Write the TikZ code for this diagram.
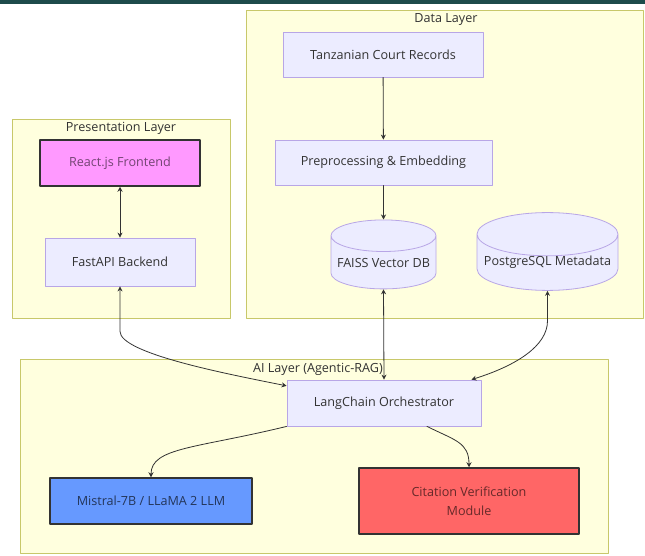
\documentclass[tikz,border=0pt]{standalone}
\usepackage{fontspec}
\setmainfont{Open Sans}
\usetikzlibrary{shapes.geometric,arrows.meta}
\definecolor{clusterfill}{HTML}{FFFFDE}
\definecolor{clusterline}{HTML}{C8C86A}
\definecolor{nodefill}{HTML}{ECECFF}
\definecolor{nodeline}{HTML}{B8A6E6}
\definecolor{textgrey}{HTML}{333333}
\definecolor{reactfill}{HTML}{FF99FF}
\definecolor{llmfill}{HTML}{6699FF}
\definecolor{citefill}{HTML}{FF6666}
\definecolor{topbar}{HTML}{1D4B4B}
\begin{document}
\begin{tikzpicture}[x=1pt,y=-1pt,line join = round, line cap=round,>={Stealth[length=5pt,width=5pt]},font=\fontsize{12.6}{15}\selectfont,
    layer/.style={draw=clusterline,fill=clusterfill,line width=0.8pt},
    layertitle/.style={text=textgrey},
    box/.style={draw=nodeline,fill=nodefill,line width=0.8pt,text=textgrey,align=center,inner sep=0pt},
    dbase/.style={box,cylinder,shape border rotate=90,aspect=0.34},
    hibox/.style={draw=textgrey,line width=1.5pt,align=center,inner sep=0pt},
    link/.style={draw=textgrey,line width=0.8pt}]
    \useasboundingbox (0,0) rectangle (645,555);
    \fill[topbar] (0,0) rectangle (645,4);

    % layers
    \draw[layer] (246,10) rectangle (643,318);
    \draw[layer] (12,119) rectangle (230,318);
    \draw[layer] (20,359) rectangle (608,553);
    \node[layertitle] (datatitle) at (446,20) {Data Layer};
    \node[layertitle] (prestitle) at (121,128) {Presentation Layer};
    \node[layertitle] (aititle) at (318,369) {AI Layer (Agentic-RAG)};

    % data layer
    \node[box,minimum width=200pt,minimum height=45pt] (records) at (383,54.5) {Tanzanian Court Records};
    \node[box,minimum width=217pt,minimum height=45pt] (prep) at (383.5,162.5) {Preprocessing \& Embedding};
    \node[dbase,minimum width=105pt,minimum height=69pt] (faiss) at (383.5,262.5) {FAISS Vector DB};
    \node[dbase,minimum width=141pt,minimum height=69pt] (pgsql) at (547.5,262.5) {PostgreSQL Metadata};

    % presentation layer
    \node[hibox,fill=reactfill,text=reactfill!45!black,minimum width=160pt,minimum height=46pt] (react) at (120,163) {React.js Frontend};
    \node[box,minimum width=150pt,minimum height=48pt] (fastapi) at (120,262) {FastAPI Backend};

    % ai layer
    \node[box,minimum width=194pt,minimum height=46pt] (lang) at (384,403) {LangChain Orchestrator};
    \node[hibox,fill=llmfill,text=llmfill!35!black,minimum width=202pt,minimum height=46pt] (llm) at (151,501) {Mistral-7B / LLaMA 2 LLM};
    \node[hibox,fill=citefill,text=citefill!40!black,minimum width=220pt,minimum height=66pt] (cite) at (469,501) {Citation Verification\\[4pt]Module};

    % connectors
    \draw[link,->] (records) -- (prep);
    \draw[link,->] (prep) -- (faiss);
    \draw[link,<->] (react) -- (fastapi);
    \draw[link,<->] (fastapi.south) -- ++(0,45) .. controls +(0,22) and +(-60,-12) .. (lang.170);
    \draw[link,<->] (faiss.south) -- (lang.north);
    \draw[link,<->] (pgsql.south) -- ++(0,30) .. controls +(0,25) and +(45,-14) .. ([xshift=-10pt]lang.north east);
    \draw[link,->] (lang.south west) .. controls +(-90,22) and +(0,-30) .. (llm.north);
    \draw[link,->] ([xshift=43pt]lang.south) .. controls +(28,14) and +(0,-25) .. (cite.north);
\end{tikzpicture}
\end{document}
